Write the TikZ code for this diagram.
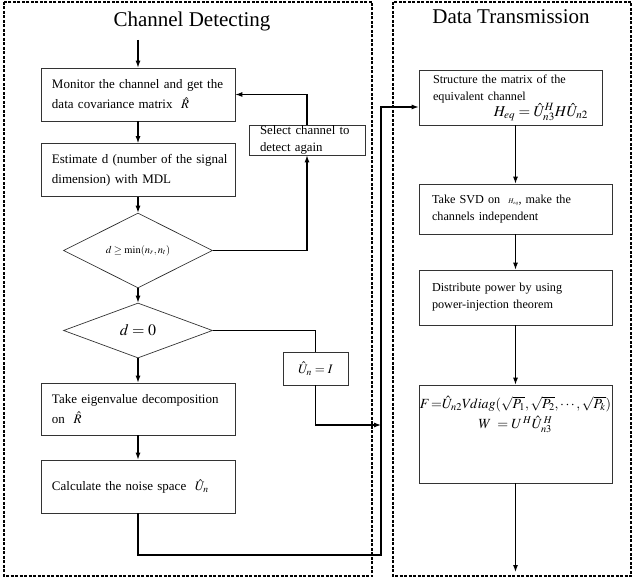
\documentclass[tikz,border=0pt]{standalone}
\usepackage{mathptmx}
\usepackage{fontspec}
\setmainfont{Liberation Serif}
\usetikzlibrary{shapes.geometric,arrows.meta}

\begin{document}
\begin{tikzpicture}[x=1pt,y=-1pt,>={Latex[length=7pt,width=5pt]}]
        \tikzstyle{stepbox}=[draw=black!80,line width=0.7pt,align=left,inner xsep=11pt,inner ysep=0pt,text width=172pt,minimum height=53pt,font=\fontsize{13}{20}\selectfont]
        \tikzstyle{sendbox}=[stepbox,inner xsep=13pt,text width=167pt,font=\fontsize{12.2}{17}\selectfont]
        \tikzstyle{decision}=[diamond,draw=black!80,line width=0.7pt,minimum width=149pt,minimum height=55pt,inner sep=0pt]
        \tikzstyle{frame}=[line width=1.4pt,dash pattern=on 3pt off 1.5pt]
        \tikzstyle{flow}=[->,line width=1.1pt]
        \useasboundingbox (0,0) rectangle (638,580);

        % the two stages
        \draw[frame] (4,2) rectangle (372,576);
        \draw[frame] (393,2) rectangle (631,576);
        \node[anchor=base,font=\fontsize{21}{24}\selectfont] (detect) at (192,27) {Channel Detecting};
        \node[anchor=base,font=\fontsize{21}{24}\selectfont] (transmit) at (511,24) {Data Transmission};

        % channel detecting
        \node[stepbox] (monitor) at (138,94.5) {Monitor the channel and get the\\data covariance matrix \ $\hat R$};
        \node[stepbox] (estimate) at (138,170) {\mbox{Estimate d (number of the signal}\\dimension) with MDL};
        \node[decision] (dcheck) at (138,250.5) {\fontsize{10.5}{12}\selectfont $d\ge\min(n_r,n_t)$};
        \node[decision] (zcheck) at (138,330.5) {\fontsize{16}{18}\selectfont $d=0$};
        \node[stepbox,minimum height=52pt] (eigen) at (138,409) {Take eigenvalue decomposition\\ on \ $\hat R$};
        \node[stepbox] (noise) at (138,486.5) {Calculate the noise space \ $\hat U_n$};
        \node[stepbox,text width=94pt,inner xsep=11pt,minimum height=30pt,font=\fontsize{12.8}{17}\selectfont] (select) at (307,140) {\mbox{Select channel to}\\detect again};
        \node[draw=black!80,line width=0.7pt,minimum width=65pt,minimum height=33pt,inner sep=0pt,font=\fontsize{13}{15}\selectfont] (unity) at (315.5,368.5) {$\hat U_n=I$};

        % data transmission
        \node[sendbox,text width=155pt,inner xsep=14pt,minimum height=55pt] (structure) at (510.5,97.5) {Structure the matrix of the\\equivalent channel\\[-1pt]\hspace*{\fill}{\fontsize{15}{17}\selectfont$H_{eq}=\hat U_{n3}^H H\hat U_{n2}$}\hspace*{\fill}};
        \node[sendbox,minimum height=50pt] (svd) at (515.5,209) {Take SVD on \ {\fontsize{7}{8}\selectfont$H_{eq}$}, make the\\channels independent};
        \node[sendbox,minimum height=55pt] (power) at (515.5,297.5) {Distribute power by using\\power-injection theorem};
        \node[draw=black!80,line width=0.7pt,inner sep=0pt,font=\fontsize{14}{17}\selectfont] (precode) at (515.5,434) {\parbox[c][98pt][t]{193pt}{\centering\vspace*{11pt}$F\,{=}\hat U_{n2}V\!diag(\sqrt{P_1},\sqrt{P_2},\cdots,\sqrt{P_k})$\\[3pt]$W\;=U^{\,H}\hat U_{n3}^{\,H}$}};

        \coordinate (start) at (138,40);
        \coordinate (busb) at (381,555);
        \coordinate (bust) at (381,107);
        \coordinate (busm) at (381,425);
        \coordinate (finish) at (515.5,572);

        \draw[flow] (start) -- (monitor);
        \foreach \from/\to in {monitor/estimate, estimate/dcheck, dcheck/zcheck, zcheck/eigen, eigen/noise, svd/power, power/precode}
                \draw[flow] (\from) -- (\to);
        \draw[flow] (dcheck.east) -| (select.south);
        \draw[flow] (select.north) |- (monitor.east);
        \draw[line width=1.1pt] (zcheck.east) -| (unity.north);
        \draw[flow] (unity.south) |- (busm);
        \draw[flow] (noise.south) |- (busb) -- (bust) -- (bust -| structure.west);
        \draw[flow] (svd.north |- structure.south) -- (svd.north);
        \draw[flow] (precode) -- (finish);
\end{tikzpicture}
\end{document}
